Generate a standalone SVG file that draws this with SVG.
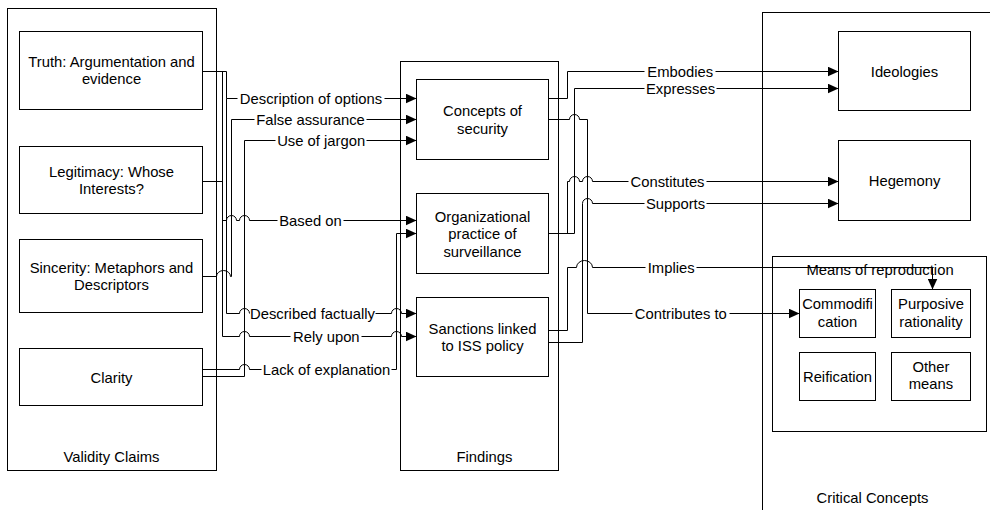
<svg xmlns="http://www.w3.org/2000/svg" width="990" height="510" viewBox="0 0 990 510">
<defs>
<marker id="arr" markerUnits="userSpaceOnUse" markerWidth="11" markerHeight="10" refX="11" refY="5" orient="auto">
<path d="M0,0 L11,5 L0,10 z" fill="#000"/>
</marker>
<style>
.box{fill:#fff;stroke:#000;stroke-width:1}
.cont{fill:none;stroke:#000;stroke-width:1}
.t{font-family:"Liberation Sans",Arial,sans-serif;font-size:14.8px;fill:#000;text-anchor:middle}
.c{fill:none;stroke:#000;stroke-width:1}
</style>
</defs>
<rect width="990" height="510" fill="#fff"/>
<g transform="translate(0.5,0.5)">
<g id="validity-claims">
<rect class="cont" x="7" y="8" width="209" height="462"/>
<text class="t" x="111" y="461">Validity Claims</text>
</g>
<g id="findings">
<rect class="cont" x="400" y="61" width="158" height="409"/>
<text class="t" x="484" y="461">Findings</text>
</g>
<g id="critical-concepts">
<rect class="cont" x="762" y="12" width="240" height="510"/>
<text class="t" x="872" y="502">Critical Concepts</text>
</g>
<g id="truth">
<rect class="box" x="19" y="31" width="183" height="78"/>
<text class="t" x="111" y="66">Truth: Argumentation and</text>
<text class="t" x="111" y="83.5">evidence</text>
</g>
<g id="legitimacy">
<rect class="box" x="19" y="146" width="183" height="67"/>
<text class="t" x="111" y="176">Legitimacy: Whose</text>
<text class="t" x="111" y="193.5">Interests?</text>
</g>
<g id="sincerity">
<rect class="box" x="19" y="239" width="183" height="73"/>
<text class="t" x="111" y="272">Sincerity: Metaphors and</text>
<text class="t" x="111" y="289.5">Descriptors</text>
</g>
<g id="clarity">
<rect class="box" x="19" y="348" width="183" height="57"/>
<text class="t" x="111" y="382">Clarity</text>
</g>
<g id="concepts-of-security">
<rect class="box" x="416" y="79" width="132" height="80"/>
<text class="t" x="482" y="115.5">Concepts of</text>
<text class="t" x="482" y="133">security</text>
</g>
<g id="organizational-practice">
<rect class="box" x="416" y="193" width="132" height="80"/>
<text class="t" x="482" y="221">Organizational</text>
<text class="t" x="482" y="238.5">practice of</text>
<text class="t" x="482" y="256">surveillance</text>
</g>
<g id="sanctions">
<rect class="box" x="416" y="297" width="132" height="79"/>
<text class="t" x="482" y="333">Sanctions linked</text>
<text class="t" x="482" y="350.5">to ISS policy</text>
</g>
<g id="ideologies">
<rect class="box" x="838" y="31" width="132" height="79"/>
<text class="t" x="904" y="76">Ideologies</text>
</g>
<g id="hegemony">
<rect class="box" x="838" y="140" width="132" height="80"/>
<text class="t" x="904" y="185.5">Hegemony</text>
</g>
<g id="means-of-reproduction">
<rect class="box" x="772" y="256" width="214" height="175"/>
<text class="t" x="879.5" y="274">Means of reproduction</text>
</g>
<g id="commodification">
<rect class="box" x="799" y="289" width="76" height="48"/>
<text class="t" x="837" y="308.5">Commodifi</text>
<text class="t" x="837" y="326">cation</text>
</g>
<g id="purposive-rationality">
<rect class="box" x="891" y="289" width="79" height="48"/>
<text class="t" x="930.5" y="308.5">Purposive</text>
<text class="t" x="930.5" y="326">rationality</text>
</g>
<g id="reification">
<rect class="box" x="799" y="352" width="76" height="48"/>
<text class="t" x="837" y="381">Reification</text>
</g>
<g id="other-means">
<rect class="box" x="891" y="352" width="79" height="48"/>
<text class="t" x="930.5" y="371">Other</text>
<text class="t" x="930.5" y="388.5">means</text>
</g>
<g id="connectors">
<path class="c" marker-end="url(#arr)" d="M202,71 H226 V98 H237 M384,98 H416"/>
<path class="c" marker-end="url(#arr)" d="M226,98 V313 H239 a5,5 0 0 1 10,0 M375,313 H391 a5,5 0 0 1 10,0 H416"/>
<path class="c" marker-end="url(#arr)" d="M222,71 V336 H239 a5,5 0 0 1 10,0 H290 M361,336 H391 a5,5 0 0 1 10,0 H416"/>
<path class="c" d="M202,181 H222"/>
<path class="c" marker-end="url(#arr)" d="M222,220 H226 a5,5 0 0 1 10,0 H239 a5,5 0 0 1 10,0 H277 M343,220 H416"/>
<path class="c" marker-end="url(#arr)" d="M202,276 H216 a7,6 0 0 1 14,0 H231 V119 H254 M366,119 H416"/>
<path class="c" marker-end="url(#arr)" d="M202,376 H244 V140 H275 M366,140 H416"/>
<path class="c" marker-end="url(#arr)" d="M202,369 H239 a5,5 0 0 1 10,0 H261 M391,369 H396 V233 H416"/>
<path class="c" marker-end="url(#arr)" d="M548,98 H567 V71 H644 M715,71 H838"/>
<path class="c" marker-end="url(#arr)" d="M548,119 H569 a5,5 0 0 1 10,0 H587 V313 H632 M729,313 H799"/>
<path class="c" marker-end="url(#arr)" d="M548,233 H574 V88 H644 M716,88 H838"/>
<path class="c" marker-end="url(#arr)" d="M567,233 V181 H569 a5,5 0 0 1 10,0 H582 a5,5 0 0 1 10,0 H628 M706,181 H838"/>
<path class="c" marker-end="url(#arr)" d="M548,342 H582 V203 a5,5 0 0 1 10,0 H644 M706,203 H838"/>
<path class="c" marker-end="url(#arr)" d="M548,330 H567 V267 H576 a8,7 0 0 1 16,0 H645 M696,267 H932 V289"/>
</g>
<g id="connector-labels">
<text class="t" x="310.5" y="103.3">Description of options</text>
<text class="t" x="310" y="124.3">False assurance</text>
<text class="t" x="320.7" y="145.3">Use of jargon</text>
<text class="t" x="310" y="225.3">Based on</text>
<text class="t" x="312" y="318.3">Described factually</text>
<text class="t" x="325.8" y="341.3">Rely upon</text>
<text class="t" x="326" y="374.3">Lack of explanation</text>
<text class="t" x="679.7" y="76.3">Embodies</text>
<text class="t" x="680" y="93.3">Expresses</text>
<text class="t" x="667" y="186.3">Constitutes</text>
<text class="t" x="675" y="208.3">Supports</text>
<text class="t" x="670.7" y="272.3">Implies</text>
<text class="t" x="680.3" y="318.3">Contributes to</text>
</g>
</g>
</svg>
